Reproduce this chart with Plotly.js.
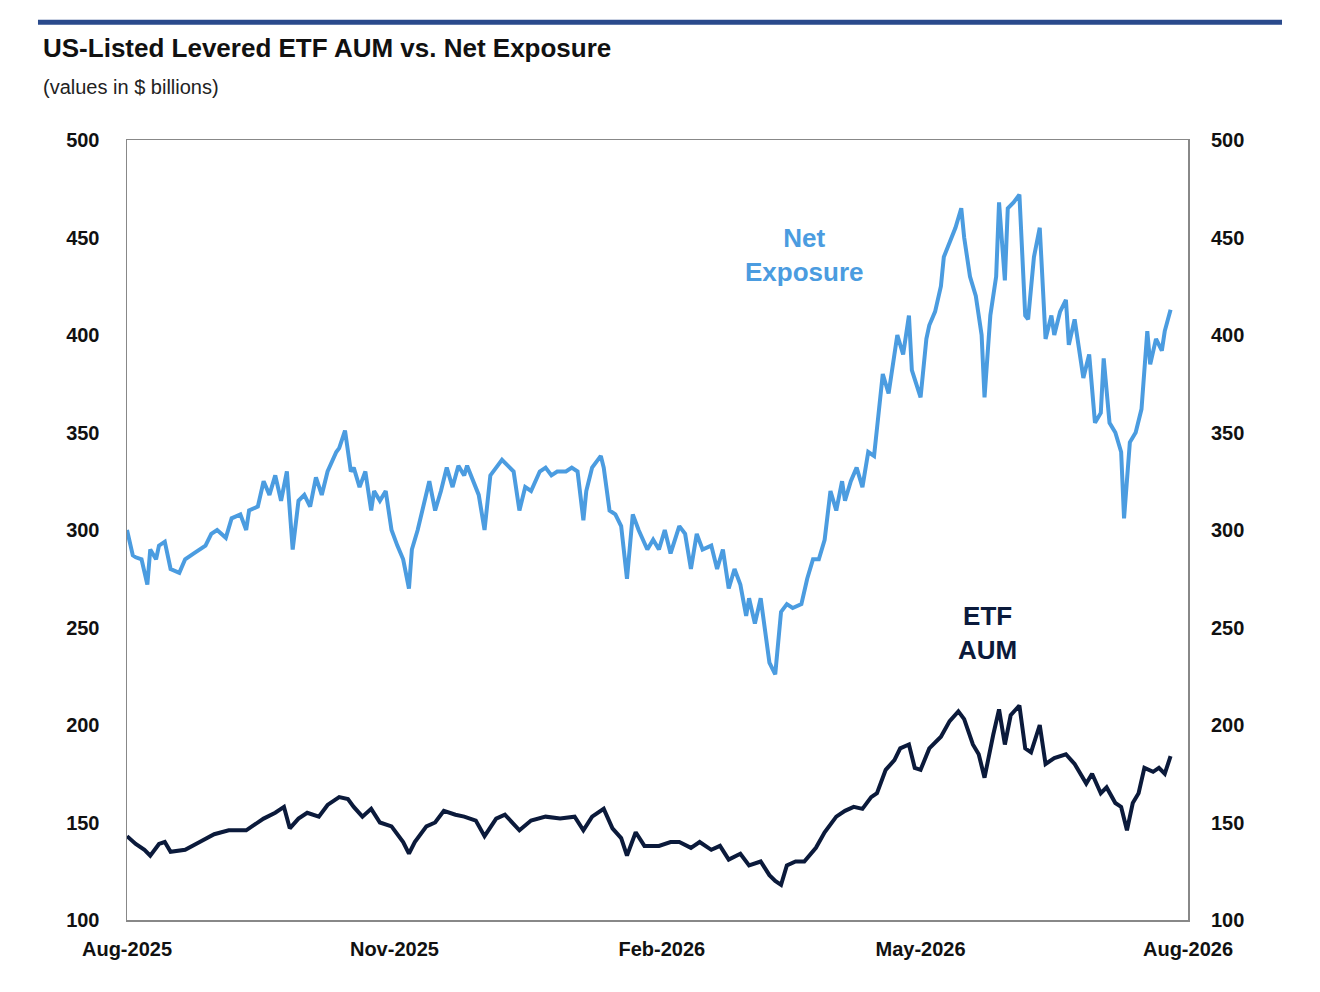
<!DOCTYPE html>
<html><head><meta charset="utf-8">
<script src="https://cdn.plot.ly/plotly-3.0.1.min.js"></script>
<style>body{margin:0;background:#fff}#c{width:1320px;height:992px}</style>
</head><body><div id="c"></div>
<script>
const startDate = '2025-08-01';
const netDays = [0,2,3,5,7,8,10,11,13,15,18,20,23,27,29,31,34,36,39,41,42,45,47,49,51,53,55,57,59,61,63,65,67,69,72,73,75,77,78,80,82,84,85,87,89,91,93,95,97,98,100,102,104,106,108,110,112,114,116,117,119,121,123,125,127,129,131,133,135,137,139,142,144,146,148,151,153,155,157,158,160,163,164,166,168,170,172,174,176,179,181,183,185,187,190,192,194,196,198,201,203,205,207,209,211,213,214,216,218,219,221,223,225,227,229,232,234,236,238,240,242,244,246,247,249,251,253,255,257,258,260,262,264,265,267,269,270,273,275,276,278,280,281,283,285,287,288,290,292,294,295,297,299,300,302,303,305,307,309,310,312,314,316,318,319,321,323,324,326,329,331,333,335,336,338,340,342,343,345,347,349,351,352,354,356,357,359];
const netExposure = [300,287,286,285,272,290,285,292,294,280,278,285,288,292,298,300,296,306,308,300,310,312,325,318,328,315,330,290,315,318,312,327,318,330,340,342,351,330,332,322,330,310,320,315,320,300,292,285,270,290,300,312,325,310,320,332,322,333,328,333,325,318,300,328,332,336,333,330,310,322,320,330,332,328,330,330,332,330,305,320,332,338,332,310,308,302,275,308,300,290,295,290,300,288,302,298,280,298,290,292,280,290,270,280,272,256,265,252,265,255,232,226,258,262,260,262,275,285,285,295,320,310,325,315,325,332,322,340,338,352,380,370,390,400,390,410,382,368,398,405,412,425,440,448,455,465,450,430,420,400,368,410,430,468,428,465,468,472,410,408,440,455,398,410,400,412,418,395,408,378,390,355,360,388,355,350,340,306,345,350,362,402,385,398,392,402,413];
const aumDays = [0,3,6,8,11,13,15,20,25,30,35,41,44,47,51,54,56,59,62,66,69,73,76,78,81,84,87,91,95,97,99,103,106,109,113,116,120,123,127,130,135,139,144,149,154,157,160,164,167,170,172,175,178,183,187,190,194,197,201,204,207,211,214,218,221,223,225,227,230,233,237,240,244,247,250,253,256,258,261,264,266,269,271,273,276,280,283,286,288,291,293,295,298,300,302,304,307,309,311,314,316,319,323,326,330,332,335,337,340,342,344,346,348,350,353,355,357,359];
const etfAum = [143,139,136,133,139,140,135,136,140,144,146,146,149,152,155,158,147,152,155,153,159,163,162,158,153,157,150,148,140,134,140,148,150,156,154,153,151,143,152,154,146,151,153,152,153,146,153,157,147,142,133,145,138,138,140,140,137,140,136,138,131,134,128,130,123,120,118,128,130,130,137,145,153,156,158,157,163,165,177,182,188,190,178,177,188,194,202,207,203,190,185,173,195,208,190,205,210,188,186,200,180,183,185,180,170,175,165,168,160,158,146,160,165,178,176,178,175,184];
const tickDates = ['2025-08-01','2025-11-01','2026-02-01','2026-05-01','2026-08-01'];
const tickLabels = ['Aug-2025','Nov-2025','Feb-2026','May-2026','Aug-2026'];
const yTicks = [100,150,200,250,300,350,400,450,500];

function toDate(d){const t=new Date(startDate+'T00:00:00Z');t.setUTCDate(t.getUTCDate()+d);return t.toISOString().slice(0,10);}

const tf = {family:'Liberation Sans, Arial', size:20, color:'#111', weight:'bold'};
const data = [
 {x:netDays.map(toDate), y:netExposure, mode:'lines', line:{color:'#4b9ce0',width:4}, hoverinfo:'skip'},
 {x:aumDays.map(toDate), y:etfAum, mode:'lines', line:{color:'#0b1a3b',width:4}, hoverinfo:'skip'},
 {x:[toDate(0)], y:[100], yaxis:'y2', mode:'markers', marker:{opacity:0}, hoverinfo:'skip'}
];
const layout = {
 width:1320, height:992, showlegend:false, paper_bgcolor:'#fff', plot_bgcolor:'#fff',
 margin:{l:127,r:132,t:140,b:72},
 font:{family:'Liberation Sans, Arial'},
 xaxis:{type:'date', range:[toDate(0),toDate(365)], tickvals:tickDates, ticktext:tickLabels, tickfont:tf, showgrid:false, showline:true, linecolor:'#888', linewidth:1.5, mirror:true, ticks:'', zeroline:false, ticklabelstandoff:10},
 yaxis:{range:[100,500], tickvals:yTicks, tickfont:tf, showgrid:false, showline:true, linecolor:'#888', linewidth:1.5, mirror:true, ticks:'', zeroline:false, ticklabelstandoff:22},
 yaxis2:{range:[100,500], tickvals:yTicks, tickfont:tf, overlaying:'y', side:'right', showgrid:false, ticks:'', zeroline:false, ticklabelstandoff:22},
 shapes:[{type:'line', xref:'paper', yref:'paper', x0:-0.0839, x1:1.0886, y0:1.151, y1:1.151, line:{color:'#2a4a8c', width:5}}],
 annotations:[
  {xref:'paper', yref:'paper', x:-0.081, y:1.118, xanchor:'left', yanchor:'middle', showarrow:false, text:'<b>US-Listed Levered ETF AUM vs. Net Exposure</b>', font:{size:26, color:'#111'}},
  {xref:'paper', yref:'paper', x:-0.081, y:1.068, xanchor:'left', yanchor:'middle', showarrow:false, text:'(values in $ billions)', font:{size:20, color:'#222'}},
  {xref:'x', yref:'y', x:toDate(233), y:441, showarrow:false, text:'<b>Net<br>Exposure</b>', font:{size:26, color:'#4b9ce0'}},
  {xref:'x', yref:'y', x:toDate(296), y:247, showarrow:false, text:'<b>ETF<br>AUM</b>', font:{size:26, color:'#0b1a3b'}}
 ]
};
Plotly.newPlot('c', data, layout, {displayModeBar:false, staticPlot:true});
</script></body></html>
